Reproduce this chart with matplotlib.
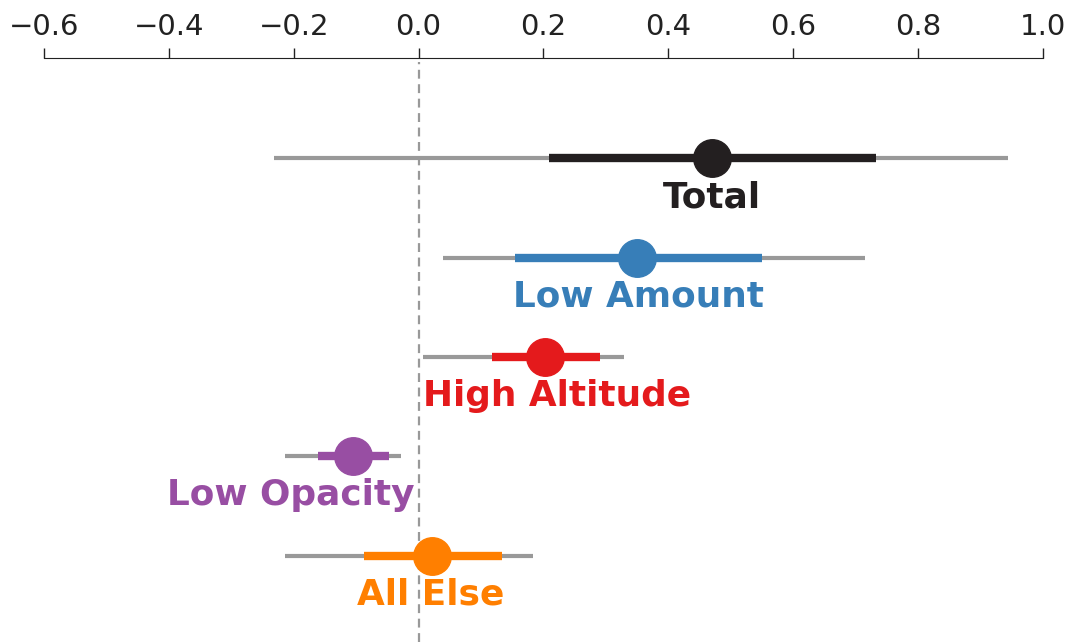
import numpy as np
import matplotlib.pyplot as plt

plt.rcParams['font.family'] = ['DejaVu Sans']

# effect estimates per subgroup: point, inner interval, outer interval
groups = ['Total', 'Low Amount', 'High Altitude', 'Low Opacity', 'All Else']
colors = ['#231f20', '#377eb8', '#e41a1c', '#984ea3', '#ff7f00']
est = [0.470, 0.350, 0.203, -0.105, 0.021]
inner_lo = [0.209, 0.154, 0.118, -0.161, -0.087]
inner_hi = [0.733, 0.550, 0.291, -0.047, 0.134]
outer_lo = [-0.232, 0.039, 0.007, -0.214, -0.214]
outer_hi = [0.944, 0.715, 0.329, -0.028, 0.183]
# where each group name is centred
label_x = [0.470, 0.352, 0.221, -0.204, 0.019]

fig = plt.figure(figsize=(10.7, 6.42), dpi=100)
ax = fig.add_axes([0.0411, 0.0, 0.9336, 0.9034])

for i, g in enumerate(groups):
    ax.plot([outer_lo[i], outer_hi[i]], [i, i], color='#999999', lw=3,
            solid_capstyle='butt', zorder=1)
    ax.plot([inner_lo[i], inner_hi[i]], [i, i], color=colors[i], lw=6,
            solid_capstyle='butt', zorder=3)
    ax.plot(est[i], i, 'o', color=colors[i], ms=27, zorder=4)
    ax.text(label_x[i], i + 0.39, g, color=colors[i], fontsize=25.8,
            fontweight='bold', ha='center', va='center', zorder=5)

ax.axvline(0, color='#999999', lw=1.6, ls=(0, (4, 2.5)), zorder=2)

ax.set_xlim(-0.6, 1.0)
ax.set_ylim(4.87, -0.97)
ax.set_xticks(np.arange(-0.6, 1.01, 0.2))
ax.xaxis.tick_top()
ax.tick_params(axis='x', labelsize=21, length=7, width=1, colors='#222222', pad=5)
ax.set_yticks([])
for s in ['left', 'right', 'bottom']:
    ax.spines[s].set_visible(False)
ax.spines['top'].set_position(('outward', 3))
ax.spines['top'].set_color('#222222')

fig.savefig('out.png', dpi=100)
